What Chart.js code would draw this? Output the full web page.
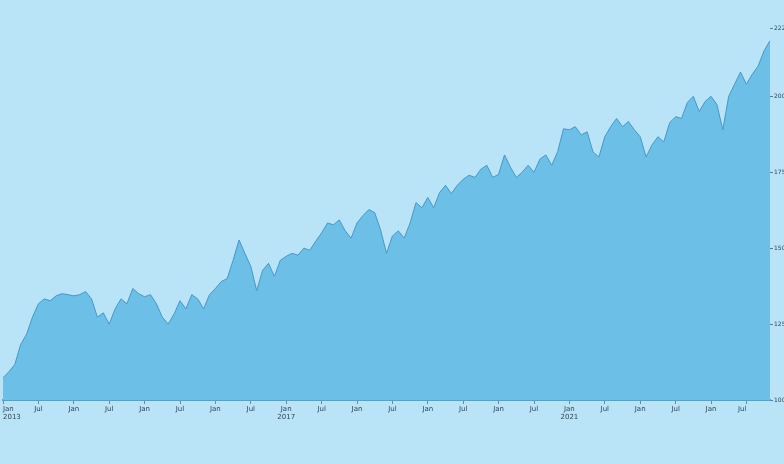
<!DOCTYPE html>
<html>
<head>
<meta charset="utf-8">
<script src="https://cdn.jsdelivr.net/npm/chart.js@4/dist/chart.umd.min.js"></script>
<style>
  html, body { margin: 0; padding: 0; background: #b9e3f7; }
  #wrap { width: 784px; height: 464px; }
</style>
</head>
<body>
<div id="wrap"><canvas id="chart" width="784" height="464"></canvas></div>
<script>
// values, left to right
const seriesValues = [
  1073, 1093, 1117, 1183, 1217, 1273, 1317, 1333, 1327, 1343,
  1350, 1347, 1343, 1347, 1357, 1333, 1273, 1287, 1250, 1300,
  1333, 1317, 1367, 1350, 1340, 1347, 1317, 1273, 1250, 1283,
  1327, 1300, 1347, 1333, 1300, 1347, 1367, 1390, 1400, 1460,
  1527, 1483, 1440, 1360, 1427, 1450, 1407, 1460, 1473, 1483,
  1477, 1500, 1493, 1523, 1550, 1583, 1577, 1593, 1557, 1533,
  1583, 1607, 1627, 1617, 1560, 1483, 1540, 1557, 1533, 1583,
  1650, 1633, 1667, 1633, 1683, 1707, 1680, 1707, 1727, 1740,
  1733, 1760, 1773, 1733, 1743, 1807, 1767, 1733, 1750, 1773,
  1750, 1793, 1807, 1773, 1817, 1893, 1890, 1900, 1873, 1883,
  1817, 1800, 1867, 1900, 1927, 1900, 1917, 1890, 1867, 1800,
  1840, 1867, 1850, 1913, 1933, 1927, 1980, 2000, 1950, 1983,
  2000, 1973, 1890, 2000, 2040, 2080, 2040, 2073, 2100, 2150,
  2183
];

const monthNames = ["Jan", "Feb", "Mar", "Apr", "May", "Jun",
                    "Jul", "Aug", "Sep", "Oct", "Nov", "Dec"];
const startYear = 2013;

const yTickValues = [1000, 1250, 1500, 1750, 2000, 2225];

// one category per point (monthly)
let categories = [];
for (let i = 0; i < seriesValues.length; i++)
{
    let m = i % 12;
    let y = startYear + Math.floor(i / 12);
    categories.push(monthNames[m] + " " + y);
}

const chartCanvas = document.getElementById("chart");

new Chart(chartCanvas, {
    type: "line",
    data: {
        labels: categories,
        datasets: [{
            data: seriesValues,
            borderColor: "#4896c4",
            borderWidth: 1,
            backgroundColor: "#6cc0e8",
            fill: "start",
            pointRadius: 0,
            tension: 0
        }]
    },
    options: {
        responsive: false,
        animation: false,
        layout: { padding: { left: 3, top: 28, bottom: 40, right: 0 } },
        plugins: { legend: { display: false }, tooltip: { enabled: false } },
        scales: {
            x: {
                offset: false,
                border: { color: "#5a9fc6", width: 2 },
                grid: { drawOnChartArea: false, tickLength: 4, color: "#5a8fb0" },
                ticks: {
                    autoSkip: false,
                    maxRotation: 0,
                    align: "inner",
                    padding: 1,
                    color: "#2f4756",
                    font: { size: 7, family: "DejaVu Sans" },
                    callback: function (val, idx) {
                        if (idx % 6 !== 0) return null;
                        let lbl = categories[idx].split(" ");
                        if (idx % 48 === 0) return [lbl[0], lbl[1]];
                        return lbl[0];
                    }
                },
                afterFit: function (scale) { scale.height = 24; scale.paddingLeft = 0; scale.paddingRight = 0; }
            },
            y: {
                position: "right",
                min: yTickValues[0],
                max: yTickValues[yTickValues.length - 1],
                border: { display: false },
                grid: { drawOnChartArea: false, tickLength: 3, color: "#4f7f9c" },
                afterBuildTicks: function (scale) {
                    scale.ticks = yTickValues.map(function (v) { return { value: v }; });
                },
                ticks: {
                    padding: 1,
                    color: "#2f4756",
                    font: { size: 6, family: "DejaVu Sans" },
                    callback: function (v) { return String(v); }
                },
                afterFit: function (scale) { scale.width = 14; }
            }
        }
    }
});
</script>
</body>
</html>
